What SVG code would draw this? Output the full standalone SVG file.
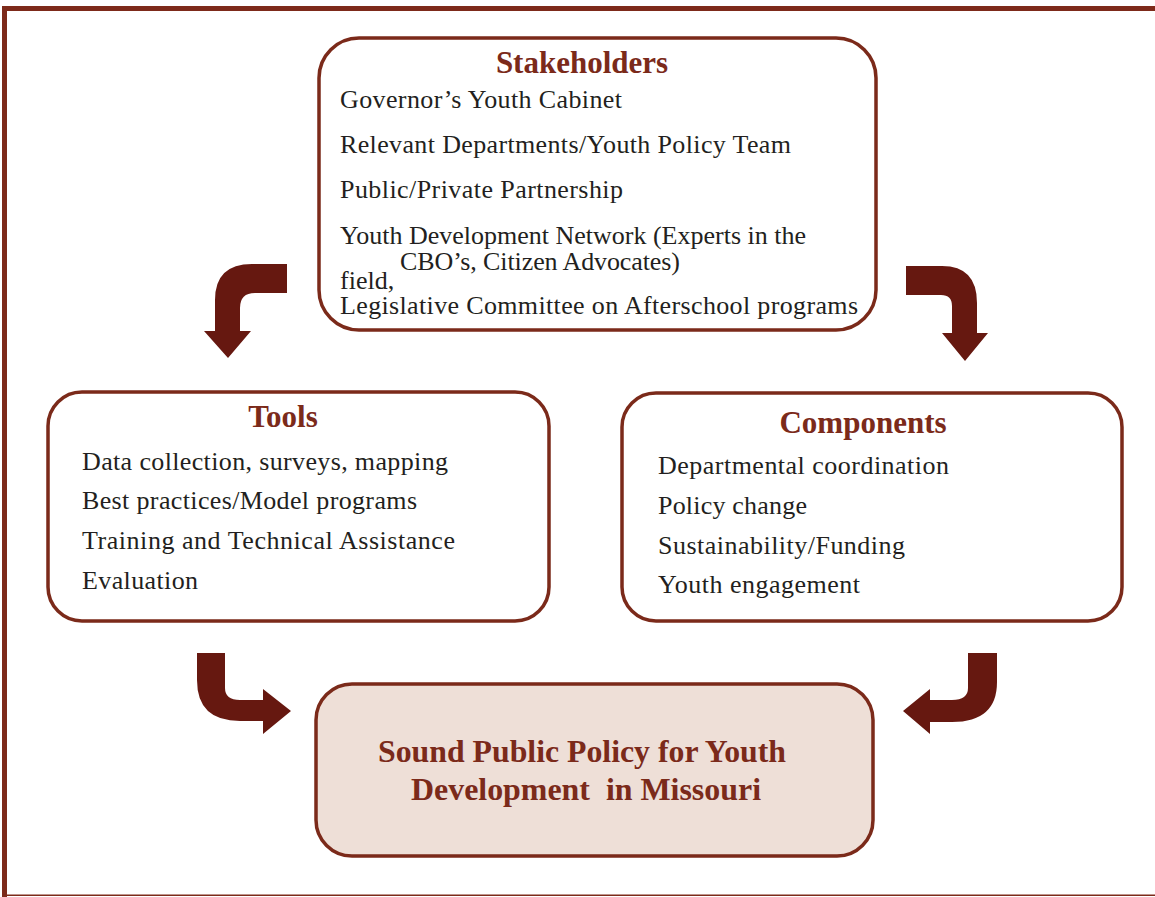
<svg xmlns="http://www.w3.org/2000/svg" width="1155" height="897" viewBox="0 0 1155 897">
  <style>
    .box { fill: #ffffff; stroke: #7b2a1a; stroke-width: 3.5; }
    .goal { fill: #eedfd7; stroke: #7b2a1a; stroke-width: 3.5; }
    .head { font-family: "Liberation Serif", "Times New Roman", serif; font-weight: bold; font-size: 31px; fill: #7b2a1a; }
    .item { font-family: "Liberation Serif", "Times New Roman", serif; font-size: 26px; fill: #231f20; }
    .flow { fill: #661810; }
    .frame { fill: #7d2a1a; }
  </style>

  <!-- page frame: heavy left and top rules, thin bottom rule -->
  <g id="frame">
    <rect class="frame" x="2" y="6" width="5" height="891"/>
    <rect class="frame" x="2" y="6" width="1153" height="5"/>
    <rect class="frame" x="2" y="894.5" width="1153" height="1.5"/>
  </g>

  <!-- curved block arrows -->
  <g id="connectors">
    <path class="flow" d="M287,264 L252,264 Q215,264 215,300 L215,331 L204,331 L228,358 L251,331 L240,331 L240,308 Q240,293 255,293 L287,293 Z"/>
    <path class="flow" d="M906,266 L942,266 Q977,266 977,303 L977,333 L988,333 L965,361 L942,333 L952,333 L952,306 Q952,295 941,295 L906,295 Z"/>
    <path class="flow" d="M197,653 L225,653 L225,688 Q225,700 240,700 L263,700 L263,689 L291,711 L263,734 L263,721 L240,721 Q197,721 197,680 Z"/>
    <path class="flow" d="M968,653 L997,653 L997,682 Q997,722 952,722 L930,722 L930,734 L903,711 L930,689 L930,700 L952,700 Q968,700 968,688 Z"/>
  </g>

  <g id="stakeholders">
    <rect class="box" x="319" y="38" width="557" height="292" rx="40" ry="40"/>
    <text class="head" x="582" y="73" text-anchor="middle">Stakeholders</text>
    <text class="item" x="340" y="108" textLength="282" lengthAdjust="spacing">Governor’s Youth Cabinet</text>
    <text class="item" x="340" y="153" textLength="451" lengthAdjust="spacing">Relevant Departments/Youth Policy Team</text>
    <text class="item" x="340" y="198" textLength="283" lengthAdjust="spacing">Public/Private Partnership</text>
    <text class="item" x="340" y="244" textLength="466" lengthAdjust="spacing">Youth Development Network (Experts in the</text>
    <text class="item" x="400" y="270" textLength="280" lengthAdjust="spacing">CBO’s, Citizen Advocates)</text>
    <text class="item" x="340" y="289">field,</text>
    <text class="item" x="340" y="314" textLength="518" lengthAdjust="spacing">Legislative Committee on Afterschool programs</text>
  </g>

  <g id="tools">
    <rect class="box" x="48" y="392" width="501" height="229" rx="34" ry="34"/>
    <text class="head" x="283" y="427" text-anchor="middle">Tools</text>
    <text class="item" x="82" y="470" textLength="366" lengthAdjust="spacing">Data collection, surveys, mapping</text>
    <text class="item" x="82" y="509" textLength="335" lengthAdjust="spacing">Best practices/Model programs</text>
    <text class="item" x="82" y="549" textLength="373" lengthAdjust="spacing">Training and Technical Assistance</text>
    <text class="item" x="82" y="589" textLength="116" lengthAdjust="spacing">Evaluation</text>
  </g>

  <g id="components">
    <rect class="box" x="622" y="393" width="500" height="228" rx="34" ry="34"/>
    <text class="head" x="863" y="433" text-anchor="middle">Components</text>
    <text class="item" x="658" y="474" textLength="291" lengthAdjust="spacing">Departmental coordination</text>
    <text class="item" x="658" y="514" textLength="149" lengthAdjust="spacing">Policy change</text>
    <text class="item" x="658" y="554" textLength="247" lengthAdjust="spacing">Sustainability/Funding</text>
    <text class="item" x="658" y="593" textLength="202" lengthAdjust="spacing">Youth engagement</text>
  </g>

  <g id="goal">
    <rect class="goal" x="316" y="684" width="557" height="172" rx="36" ry="36"/>
    <text class="head" x="582" y="762" text-anchor="middle" textLength="408" lengthAdjust="spacingAndGlyphs">Sound Public Policy for Youth</text>
    <text class="head" x="586" y="800" text-anchor="middle" textLength="350" lengthAdjust="spacingAndGlyphs" xml:space="preserve">Development  in Missouri</text>
  </g>
</svg>
